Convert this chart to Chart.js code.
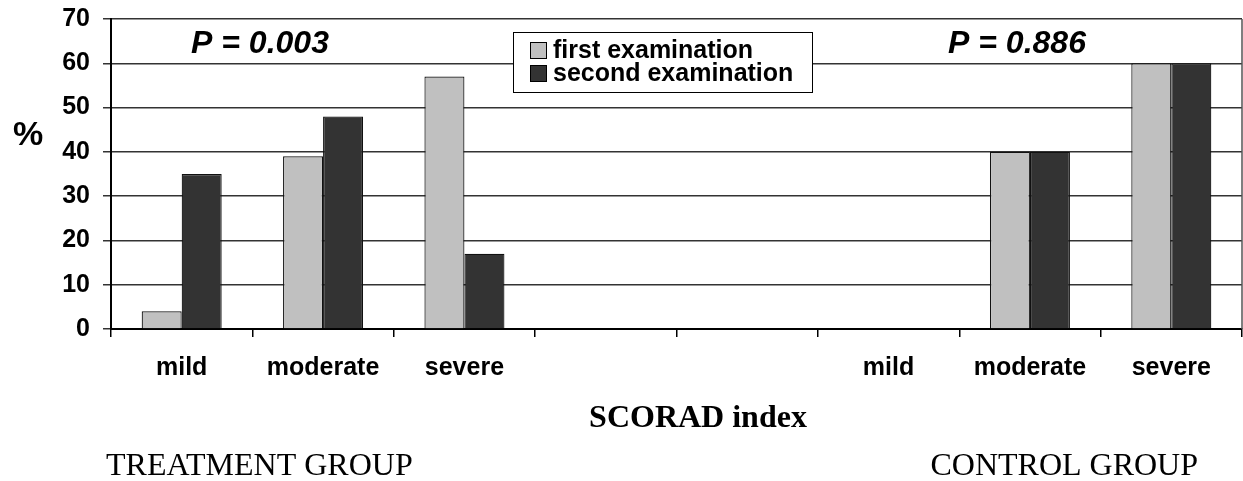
<!DOCTYPE html>
<html>
<head>
<meta charset="utf-8">
<script src="https://cdn.jsdelivr.net/npm/chart.js@4"></script>
<style>
  html, body { margin: 0; padding: 0; background: #fff; }
  canvas { display: block; }
</style>
</head>
<body>
<canvas id="scoradChart" width="1243" height="481"></canvas>
<script>
// categories: treatment group, two empty slots, control group
const categories = ["mild", "moderate", "severe", "", "", "mild", "moderate", "severe"];
const firstExam = [4, 39, 57, 0, 0, 0, 40, 60];
const secondExam = [35, 48, 17, 0, 0, 0, 40, 60];
const seriesNames = ["first examination", "second examination"];
const pValues = ["P = 0.003", "P = 0.886"];
const groupNames = ["TREATMENT GROUP", "CONTROL GROUP"];

const LIGHT = "#c0c0c0";
const DARK = "#333333";

// texts and legend box drawn on top of the chart
const overlayPlugin = {
    id: "overlay",
    afterDraw(chart) {
        const ctx = chart.ctx;
        const area = chart.chartArea;
        ctx.save();

        // right border of plot area
        ctx.strokeStyle = "#555";
        ctx.lineWidth = 1.5;
        ctx.beginPath();
        ctx.moveTo(area.right, area.top);
        ctx.lineTo(area.right, area.bottom);
        ctx.stroke();

        // y axis unit
        ctx.fillStyle = "#000";
        ctx.font = "bold 34px 'Liberation Sans', Arial, sans-serif";
        ctx.textAlign = "center";
        ctx.textBaseline = "middle";
        ctx.fillText("%", 28, 136);

        // p values
        ctx.font = "italic bold 32px 'Liberation Sans', Arial, sans-serif";
        ctx.fillText(pValues[0], 260, 44);
        ctx.fillText(pValues[1], 1017, 44);

        // axis title
        ctx.font = "bold 32px 'Liberation Serif', 'Times New Roman', serif";
        ctx.textBaseline = "alphabetic";
        ctx.fillText("SCORAD index", 698, 427);

        // group names
        ctx.font = "32px 'Liberation Serif', 'Times New Roman', serif";
        ctx.textAlign = "left";
        ctx.fillText(groupNames[0], 106, 475);
        ctx.textAlign = "right";
        ctx.fillText(groupNames[1], 1198, 475);

        // legend
        const box = { x: 513, y: 32, w: 299, h: 60 };
        ctx.fillStyle = "#fff";
        ctx.fillRect(box.x, box.y, box.w, box.h);
        ctx.strokeStyle = "#000";
        ctx.lineWidth = 1;
        ctx.strokeRect(box.x + 0.5, box.y + 0.5, box.w, box.h);
        ctx.font = "bold 25px 'Liberation Sans', Arial, sans-serif";
        ctx.textAlign = "left";
        chart.data.datasets.forEach((ds, i) => {
            const sy = 42 + i * 23;
            ctx.fillStyle = ds.backgroundColor;
            ctx.fillRect(530, sy, 16, 16);
            ctx.strokeRect(530.5, sy + 0.5, 16, 16);
            ctx.fillStyle = "#000";
            ctx.fillText(ds.label, 553, sy + 16);
        });

        ctx.restore();
    }
};

const ctx = document.getElementById("scoradChart").getContext("2d");
new Chart(ctx, {
    type: "bar",
    data: {
        labels: categories,
        datasets: [
            { label: seriesNames[0], data: firstExam, backgroundColor: LIGHT, borderColor: "#111", borderWidth: 1.2 },
            { label: seriesNames[1], data: secondExam, backgroundColor: DARK, borderColor: "#111", borderWidth: 1.2 }
        ]
    },
    options: {
        responsive: false,
        animation: false,
        layout: { padding: { top: 19, right: 1, bottom: 0, left: 0 } },
        datasets: { bar: { barPercentage: 1, categoryPercentage: 0.566 } },
        plugins: {
            legend: { display: false },
            tooltip: { enabled: false }
        },
        scales: {
            x: {
                offset: true,
                grid: { offset: true, drawOnChartArea: false, drawTicks: true, tickLength: 8, color: "#000", lineWidth: 1.5 },
                border: { color: "#000", width: 2 },
                ticks: {
                    color: "#000",
                    padding: 16,
                    maxRotation: 0,
                    autoSkip: false,
                    font: { family: "'Liberation Sans', Arial, sans-serif", size: 25, weight: "bold" }
                },
                afterFit(scale) { scale.height = 152; }
            },
            y: {
                min: 0,
                max: 70,
                ticks: {
                    stepSize: 10,
                    color: "#000",
                    padding: 13,
                    font: { family: "'Liberation Sans', Arial, sans-serif", size: 25, weight: "bold" }
                },
                grid: { color: "#333", lineWidth: 1.5, tickLength: 8 },
                border: { color: "#000", width: 2 },
                afterFit(scale) {
                    scale.width = 111;
                    scale.paddingTop = 0;
                    scale.paddingBottom = 0;
                }
            }
        }
    },
    plugins: [overlayPlugin]
});
</script>
</body>
</html>
